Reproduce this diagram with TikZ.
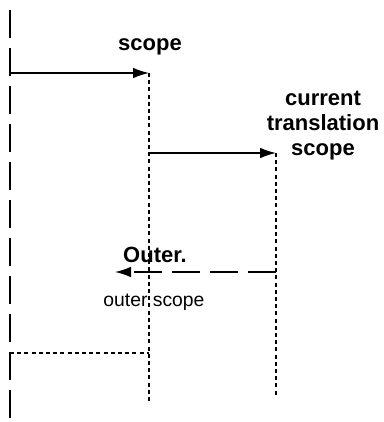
\documentclass[tikz,border=0pt]{standalone}
\usepackage{fontspec}
\setmainfont{Liberation Sans}
\usetikzlibrary{arrows.meta,positioning}

\tikzset{
  lifeline/.style={line width=1.4pt, dash pattern=on 21pt off 7.5pt},
  activation/.style={line width=1pt, dash pattern=on 3pt off 2.4pt},
  call/.style={line width=1.1pt, -{Latex[length=12pt,width=8pt]}},
  reply/.style={call, dash pattern=on 21pt off 7.5pt},
  msglabel/.style={font=\bfseries\fontsize{16.5}{18.75}\selectfont, align=center, inner sep=0pt},
  note/.style={font=\fontsize{14.5}{16}\selectfont, inner sep=0pt}
}

\begin{document}
\begin{tikzpicture}[x=0.75pt,y=-0.75pt]
      % page size
      \useasboundingbox (0,0) rectangle (383,422);
      % points on the lifelines
      \coordinate (outerTop) at (10,10);
      \coordinate (outerBot) at (10,422);
      \coordinate (outerCall) at (10,73);
      \coordinate (scopeTop) at (149,73);
      \coordinate (scopeCall) at (149,153);
      \coordinate (scopeBot) at (149,402);
      \coordinate (curTop) at (276,153);
      \coordinate (curRet) at (276,272);
      \coordinate (curBot) at (276,397);
      \coordinate (outerEnd) at (115,272);
      \coordinate (innerLeft) at (10,353);
      \coordinate (innerRight) at (149,353);
      % lifelines
      \draw[lifeline] (outerTop) -- (outerBot);
      \draw[activation] (scopeTop) -- (scopeBot);
      \draw[activation] (curTop) -- (curBot);
      \draw[activation] (innerLeft) -- (innerRight);
      % messages
      \draw[call] (outerCall) -- (scopeTop);
      \draw[call] (scopeCall) -- (curTop);
      \draw[reply] (curRet) -- (outerEnd);
      % labels
      \node[msglabel] (scopeLbl) at (150,47) {scope};
      \node[msglabel] (curLbl) at (323,126) {current\\translation\\scope};
      \node[msglabel] (outerLbl) at (155,255) {Outer.};
      \node[note] (outerNote) at (154,302) {outer scope};
\end{tikzpicture}
\end{document}
